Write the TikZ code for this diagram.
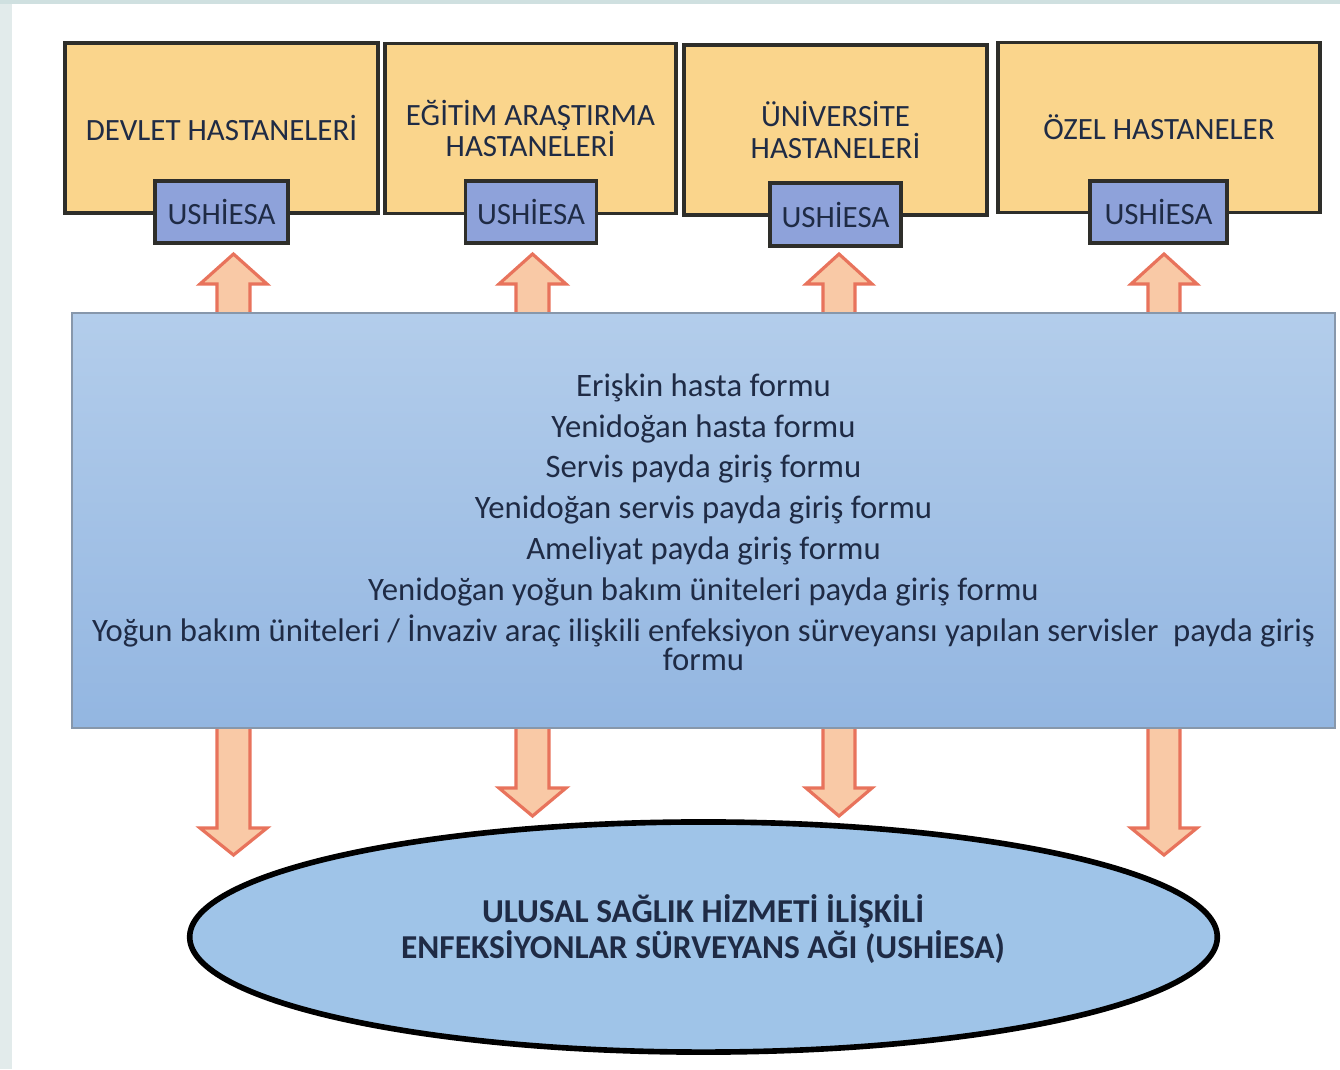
\documentclass[tikz,border=0pt]{standalone}
\usepackage{fontspec}
\setmainfont{Carlito}
\usetikzlibrary{shapes.geometric}
\definecolor{hospfill}{HTML}{FAD58C}
\definecolor{boxline}{HTML}{2E2E2A}
\definecolor{ushfill}{HTML}{8EA2DA}
\definecolor{formtop}{HTML}{B3CDEB}
\definecolor{formbot}{HTML}{93B6E1}
\definecolor{formline}{HTML}{8797AB}
\definecolor{arrowfill}{HTML}{F9C9A6}
\definecolor{arrowline}{HTML}{E8735C}
\definecolor{agfill}{HTML}{9FC4E8}
\definecolor{textnavy}{HTML}{1F2B45}
\definecolor{edgegray}{HTML}{E2EBEB}
\definecolor{topteal}{HTML}{CFE0E0}
\newcommand{\formfont}{\fontsize{9.3}{11.6}\selectfont\lineskiplimit=-100pt\relax}

\begin{document}
\begin{tikzpicture}[x=0.01cm, y=-0.01cm,
    hosp/.style={rectangle, draw=boxline, line width=1pt, fill=hospfill, minimum height=1.70cm,
        align=center, text=textnavy, font=\fontsize{8.8}{9}\selectfont},
    ushiesa/.style={rectangle, draw=boxline, line width=1pt, fill=ushfill, minimum height=0.62cm,
        text=textnavy, font=\fontsize{8.8}{9}\selectfont},
    blockarrow/.style={draw=arrowline, fill=arrowfill, line width=0.9pt, line join=miter}]
    \useasboundingbox (0,0) rectangle (1340,1069);
    \fill[white] (0,0) rectangle (1340,1069);
    \fill[edgegray] (0,0) rectangle (12,1069);
    \fill[topteal] (0,0) rectangle (1340,4);

    % hospital groups
    \node[hosp, minimum width=3.13cm] (devlet) at (221.5,128) {DEVLET HASTANELERİ};
    \node[hosp, minimum width=2.91cm] (egitim) at (530.5,128.5) {EĞİTİM ARAŞTIRMA\\HASTANELERİ};
    \node[hosp, minimum width=3.03cm] (univ) at (835.5,130) {ÜNİVERSİTE\\HASTANELERİ};
    \node[hosp, minimum width=3.22cm] (ozel) at (1159,127.5) {ÖZEL HASTANELER};

    \node[ushiesa, minimum width=1.33cm] (ush1) at (221.5,212) {USHİESA};
    \node[ushiesa, minimum width=1.22cm] (ush2) at (531,212) {USHİESA};
    \node[ushiesa, minimum width=1.29cm, minimum height=0.63cm] (ush3) at (835.5,214.5) {USHİESA};
    \node[ushiesa, minimum width=1.37cm] (ush4) at (1158.5,212) {USHİESA};

    % arrows
    \draw[blockarrow] (217,320) -- (217,284) -- (200,284) -- (233.5,254) -- (267,284) -- (250,284) -- (250,320) -- cycle;
    \draw[blockarrow] (516,320) -- (516,284) -- (499,284) -- (532.5,254) -- (566,284) -- (549,284) -- (549,320) -- cycle;
    \draw[blockarrow] (823,320) -- (823,284) -- (806,284) -- (839,254) -- (872,284) -- (855,284) -- (855,320) -- cycle;
    \draw[blockarrow] (1148,320) -- (1148,284) -- (1131,284) -- (1164,254) -- (1197,284) -- (1180,284) -- (1180,320) -- cycle;

    \draw[blockarrow] (217,720) -- (217,828) -- (200,828) -- (233.5,855) -- (267,828) -- (250,828) -- (250,720) -- cycle;
    \draw[blockarrow] (516,720) -- (516,788) -- (499,788) -- (532.5,816) -- (566,788) -- (549,788) -- (549,720) -- cycle;
    \draw[blockarrow] (823,720) -- (823,788) -- (806,788) -- (839,816) -- (872,788) -- (855,788) -- (855,720) -- cycle;
    \draw[blockarrow] (1148,720) -- (1148,828) -- (1131,828) -- (1164,855) -- (1197,828) -- (1180,828) -- (1180,720) -- cycle;

    % forms
    \node[rectangle, draw=formline, line width=0.6pt, top color=formtop, bottom color=formbot,
        minimum width=12.63cm, minimum height=4.15cm] (formlar) at (703.5,520.5) {};
    \node[align=center, text=textnavy, font=\formfont] (formtext) at (703.5,522)
        {Erişkin hasta formu\\
         Yenidoğan hasta formu\\
         Servis payda giriş formu\\
         Yenidoğan servis payda giriş formu\\
         Ameliyat payda giriş formu\\
         Yenidoğan yoğun bakım üniteleri payda giriş formu\\
         Yoğun bakım üniteleri / İnvaziv araç ilişkili enfeksiyon sürveyansı yapılan servisler\ \ payda giriş\\[-3.3pt]
         formu};

    % network
    \node[ellipse, draw=black, line width=1.6pt, fill=agfill, minimum width=10.27cm,
        minimum height=2.30cm, inner sep=0pt] (ag) at (703.5,937) {};
    \node[align=center, text=textnavy, font=\bfseries\fontsize{9.5}{10.5}\selectfont] (agtext) at (703,929)
        {ULUSAL SAĞLIK HİZMETİ İLİŞKİLİ\\ENFEKSİYONLAR SÜRVEYANS AĞI (USHİESA)};
\end{tikzpicture}
\end{document}
